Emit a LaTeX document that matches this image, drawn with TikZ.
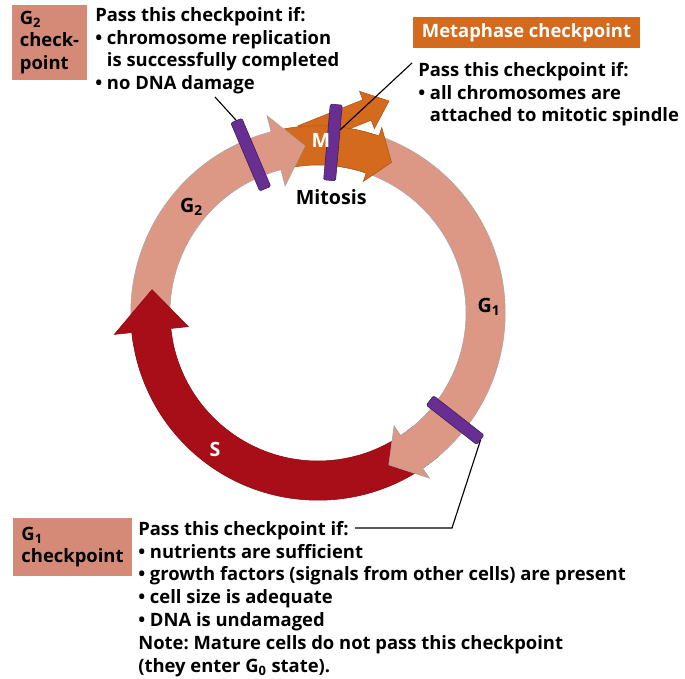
\documentclass[tikz,border=0pt]{standalone}
\usepackage{fontspec}
\setmainfont{Open Sans}
\frenchspacing
\usetikzlibrary{calc}
\definecolor{ringpink}{RGB}{220,152,132}
\definecolor{boxpink}{RGB}{212,138,118}
\definecolor{sred}{RGB}{168,14,24}
\definecolor{morange}{RGB}{212,106,30}
\definecolor{cpurple}{RGB}{104,46,146}
\newcommand{\ringout}{4.68}
\newcommand{\ringin}{3.7}
\newcommand{\ringmid}{4.19}
\newcommand{\cyclearrow}[5]{%
  \filldraw[#1] ({#2}:\ringout) arc[start angle=#2, end angle=#3, radius=\ringout]
    -- ({#3}:{\ringout+#5}) -- ({#4}:\ringmid) -- ({#3}:{\ringin-#5})
    -- ({#3}:\ringin) arc[start angle=#3, end angle=#2, radius=\ringin] -- cycle;}

\begin{document}
\begin{tikzpicture}[font=\bfseries\fontsize{13.1}{16.2}\selectfont,
  pinkarrow/.style={fill=ringpink, draw=gray!70, line width=0.4pt},
  redarrow/.style={fill=sred, draw=sred!80!black, line width=0.4pt},
  orangearrow/.style={fill=morange, draw=morange!80!black, line width=0.4pt},
  cpbar/.style={rectangle, fill=cpurple, draw=cpurple!60!black, rounded corners=1pt,
    minimum height=0.3cm, inner sep=0pt},
  cpbox/.style={fill=boxpink, align=left},
  note/.style={anchor=north west, align=left, inner sep=0pt},
  ringlabel/.style={font=\bfseries\fontsize{14}{17}\selectfont},
  connector/.style={line width=0.8pt}]
  \useasboundingbox (-7.95,-9.125) rectangle (9.175,7.825);

  \filldraw[pinkarrow] (82:\ringout) arc[start angle=82, end angle=-38, radius=\ringout]
    -- (-38:\ringin) arc[start angle=-38, end angle=82, radius=\ringin] -- cycle;
  \filldraw[orangearrow] (-0.5,4.68) -- (1.12,5.33) -- (1.04,5.54) -- (1.775,5.3)
    -- (1.41,4.61) -- (1.33,4.82) -- (-0.3,4.17) -- cycle;
  \cyclearrow{orangearrow}{103}{71}{64}{0.22}
  \cyclearrow{pinkarrow}{190}{104.5}{94.5}{0.42}
  \cyclearrow{redarrow}{-50}{-174}{-188}{0.44}
  \cyclearrow{pinkarrow}{-38}{-56}{-65}{0.3}

  \node[cpbar, minimum width=1.85cm, rotate=113] (g2bar) at (113:4.3) {};
  \node[cpbar, minimum width=1.9cm, rotate=85] (mbar) at (85:4.28) {};
  \node[cpbar, minimum width=1.6cm, rotate=-38] (g1bar) at (-38:4.35) {};

  \node[ringlabel] (g2lab) at (140:4.13) {G\textsubscript{2}};
  \node[ringlabel, text=white] (mlab) at (0.075,4.325) {M};
  \node[ringlabel] (mitlab) at (0.33,2.9) {Mitosis};
  \node[ringlabel] (g1lab) at (2:4.28) {G\textsubscript{1}};
  \node[ringlabel, text=white] (slab) at (233:4.28) {S};

  \node[cpbox, minimum width=1.875cm, minimum height=1.875cm] (g2box) at (-6.7125,6.7625)
    {G\textsubscript{2}\\check-\\point};
  \node[note] (g2note) at (-5.575,7.65) {Pass this checkpoint if:\\
    \textbullet\ chromosome replication\\
    \phantom{\textbullet\ }is successfully completed\\
    \textbullet\ no DNA damage};

  \node[fill=morange, text=white, minimum width=5.675cm, minimum height=0.775cm] (mbox)
    at (5.2125,7.0125) {Metaphase checkpoint};
  \node[note] (mnote) at (2.5,6.275) {Pass this checkpoint if:\\
    \textbullet\ all chromosomes are\\
    \phantom{\textbullet\ }attached to mitotic spindle};

  \node[cpbox, minimum width=2.975cm, minimum height=1.45cm] (g1box) at (-6.1375,-5.85)
    {G\textsubscript{1}\\checkpoint};
  \node[note] (g1note) at (-4.5,-5.2) {Pass this checkpoint if:\\
    \textbullet\ nutrients are sufficient\\
    \textbullet\ growth factors (signals from other cells) are present\\
    \textbullet\ cell size is adequate\\
    \textbullet\ DNA is undamaged\\
    Note: Mature cells do not pass this checkpoint\\
    (they enter G\textsubscript{0} state).};

  \coordinate (g2from) at (-2.575,5.4);
  \coordinate (mfrom) at (2.35,6.25);
  \coordinate (g1corner) at (3.35,-5.375);
  \coordinate (g1to) at (0.925,-5.375);
  \draw[connector] (g2from) -- (g2bar.east);
  \draw[connector] (mfrom) -- ($(mbar.south)!0.35!(mbar.south east)$);
  \draw[connector] (g1bar.east) -- (g1corner) -- (g1to);
\end{tikzpicture}
\end{document}
